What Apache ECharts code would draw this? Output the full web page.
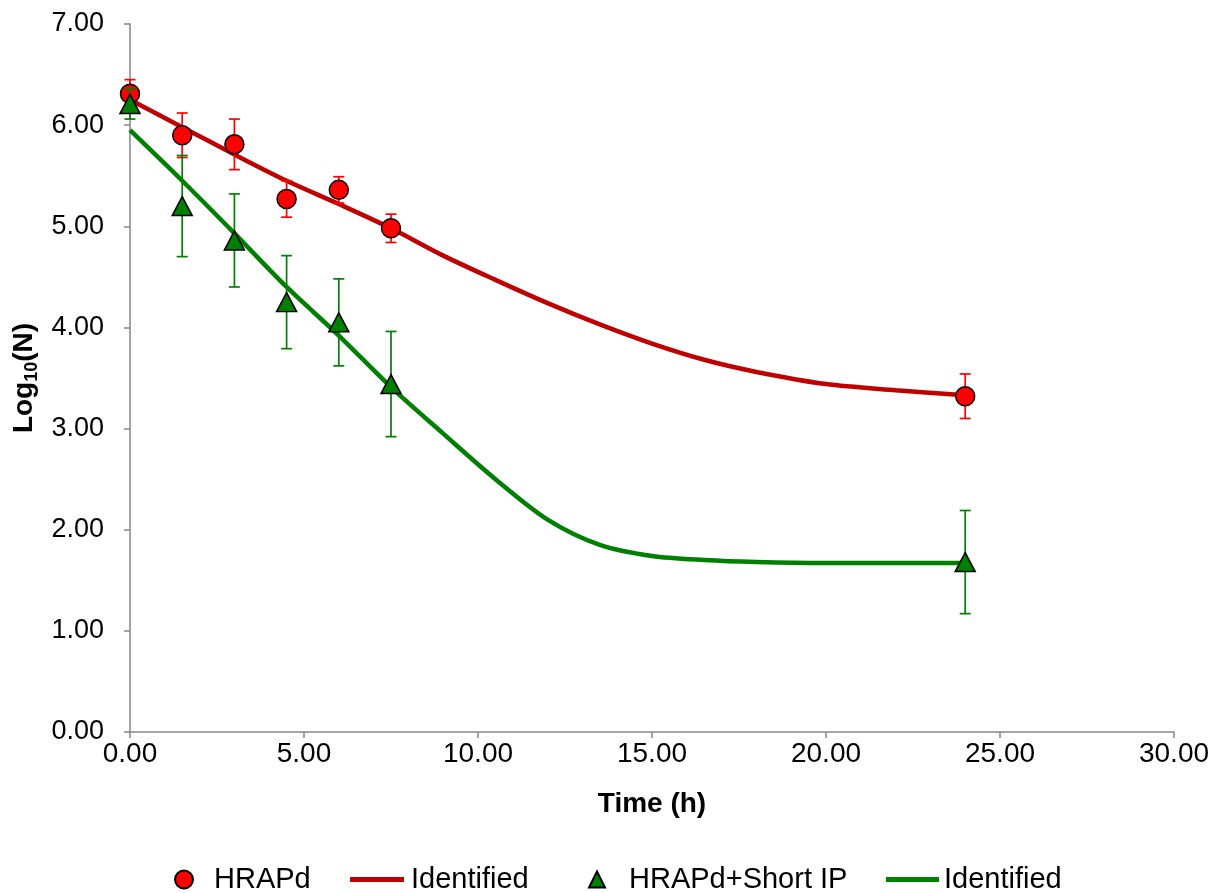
<!DOCTYPE html>
<html>
<head>
<meta charset="utf-8">
<script src="https://cdn.jsdelivr.net/npm/echarts@6/dist/echarts.min.js"></script>
<style>
html,body{margin:0;padding:0;background:#fff;}
#chart{width:1216px;height:893px;}
</style>
</head>
<body>
<div id="chart"></div>
<script>
// ---- data ----
const timePoints = [0, 1.5, 3, 4.5, 6, 7.5, 24];
const hrapd      = [6.31, 5.90, 5.81, 5.27, 5.36, 4.98, 3.32];
const hrapdErr   = [0.14, 0.22, 0.25, 0.18, 0.13, 0.14, 0.22];
const shortIP    = [6.21, 5.20, 4.86, 4.25, 4.05, 3.44, 1.68];
const shortIPErr = [0.15, 0.50, 0.46, 0.46, 0.43, 0.52, 0.51];

const curveTime  = [0, 1.5, 3, 4.5, 6, 7.5, 9, 10.5, 12, 13.5, 15, 16.5, 18, 20, 22, 24];
const hrapdFit   = [6.25, 5.98, 5.71, 5.45, 5.22, 4.98, 4.71, 4.47, 4.24, 4.03, 3.84, 3.68, 3.56, 3.44, 3.38, 3.33];
const shortIPFit = [5.95, 5.45, 4.93, 4.40, 3.92, 3.41, 2.95, 2.50, 2.10, 1.85, 1.74, 1.70, 1.68, 1.67, 1.67, 1.67];

const xTicks = [0, 5, 10, 15, 20, 25, 30];
const yTicks = [0, 1, 2, 3, 4, 5, 6, 7];

const seriesNames = ['HRAPd', 'Identified', 'HRAPd+Short IP', 'Identified '];

// ---- build ----
const FONT = 'Liberation Sans, Arial, sans-serif';
const pts = (xs, ys) => xs.map((x, i) => [x, ys[i]]);
const errs = (xs, ys, es) => xs.map((x, i) => [x, ys[i] - es[i], ys[i] + es[i]]);

function errorBar(color) {
  return function (params, api) {
    const x = api.value(0);
    const lo = api.coord([x, api.value(1)]);
    const hi = api.coord([x, api.value(2)]);
    const hw = 5.5;
    const st = { stroke: color, lineWidth: 1.7 };
    return {
      type: 'group',
      children: [
        { type: 'line', shape: { x1: hi[0], y1: hi[1], x2: lo[0], y2: lo[1] }, style: st },
        { type: 'line', shape: { x1: hi[0] - hw, y1: hi[1], x2: hi[0] + hw, y2: hi[1] }, style: st },
        { type: 'line', shape: { x1: lo[0] - hw, y1: lo[1], x2: lo[0] + hw, y2: lo[1] }, style: st }
      ]
    };
  };
}

const chart = echarts.init(document.getElementById('chart'), null, { renderer: 'canvas' });

function legendAt(left, name, icon, w, h, padLeft) {
  return {
    orient: 'horizontal', top: 865, left: left, padding: 0, itemGap: 0,
    itemWidth: w, itemHeight: h, selectedMode: false,
    textStyle: { fontSize: 29, color: '#000', fontFamily: FONT, padding: [0, 0, 0, padLeft] },
    data: [{ name: name, icon: icon }]
  };
}

chart.setOption({
  animation: false,
  backgroundColor: '#fff',
  grid: { left: 130, right: 42, top: 24, bottom: 161, containLabel: false },
  legend: [
    legendAt(174, seriesNames[0], 'circle', 18, 18, 16),
    legendAt(350, seriesNames[1], 'rect', 54, 5, 2),
    legendAt(588, seriesNames[2], 'triangle', 16, 16, 19),
    legendAt(886, seriesNames[3], 'rect', 53, 5, 0)
  ],
  xAxis: {
    type: 'value', min: xTicks[0], max: xTicks[xTicks.length - 1], interval: 5,
    name: 'Time (h)', nameLocation: 'middle', nameGap: 58,
    nameTextStyle: { fontSize: 28, fontWeight: 'bold', color: '#000', fontFamily: FONT },
    axisLine: { show: true, lineStyle: { color: '#868686', width: 1.5 } },
    axisTick: { show: true, length: 6, lineStyle: { color: '#868686', width: 1.5 } },
    axisLabel: { fontSize: 28, color: '#000', fontFamily: FONT, margin: 8, formatter: v => v.toFixed(2) },
    splitLine: { show: false }
  },
  yAxis: {
    type: 'value', min: yTicks[0], max: yTicks[yTicks.length - 1], interval: 1,
    name: '{b|Log}{s|10}{b|(N)}', nameLocation: 'middle', nameGap: 76, nameRotate: 90,
    nameTextStyle: {
      color: '#000',
      rich: {
        b: { fontSize: 28, fontWeight: 'bold', fontFamily: FONT, color: '#000', lineHeight: 32, verticalAlign: 'middle' },
        s: { fontSize: 18, fontWeight: 'bold', fontFamily: FONT, color: '#000', lineHeight: 32, verticalAlign: 'bottom' }
      }
    },
    axisLine: { show: true, lineStyle: { color: '#868686', width: 1.5 } },
    axisTick: { show: true, length: 6, lineStyle: { color: '#868686', width: 1.5 } },
    axisLabel: { fontSize: 27, color: '#000', fontFamily: FONT, margin: 26, formatter: v => v.toFixed(2) },
    splitLine: { show: false }
  },
  series: [
    {
      name: seriesNames[1], type: 'line', data: pts(curveTime, hrapdFit),
      smooth: 0.3, symbol: 'none', showSymbol: false, z: 2,
      lineStyle: { color: '#C00000', width: 4.5 }, itemStyle: { color: '#C00000' }
    },
    {
      name: seriesNames[3], type: 'line', data: pts(curveTime, shortIPFit),
      smooth: 0.3, symbol: 'none', showSymbol: false, z: 2,
      lineStyle: { color: '#008000', width: 4.5 }, itemStyle: { color: '#008000' }
    },
    {
      type: 'custom', name: 'hrapdErr', data: errs(timePoints, hrapd, hrapdErr),
      renderItem: errorBar('#FF0000'), encode: { x: 0, y: [1, 2] }, z: 3, silent: true
    },
    {
      name: seriesNames[0], type: 'scatter', data: pts(timePoints, hrapd), z: 4,
      symbol: 'circle', symbolSize: 19,
      itemStyle: { color: '#FF0000', borderColor: '#000', borderWidth: 1.5, opacity: 1 }
    },
    {
      type: 'custom', name: 'shortErr', data: errs(timePoints, shortIP, shortIPErr),
      renderItem: errorBar('#008000'), encode: { x: 0, y: [1, 2] }, z: 5, silent: true
    },
    {
      name: seriesNames[2], type: 'scatter', data: pts(timePoints, shortIP), z: 6,
      symbol: 'triangle', symbolSize: [20, 19],
      itemStyle: { color: '#008000', borderColor: '#000', borderWidth: 1.5, opacity: 1 }
    }
  ]
});
</script>
</body>
</html>
